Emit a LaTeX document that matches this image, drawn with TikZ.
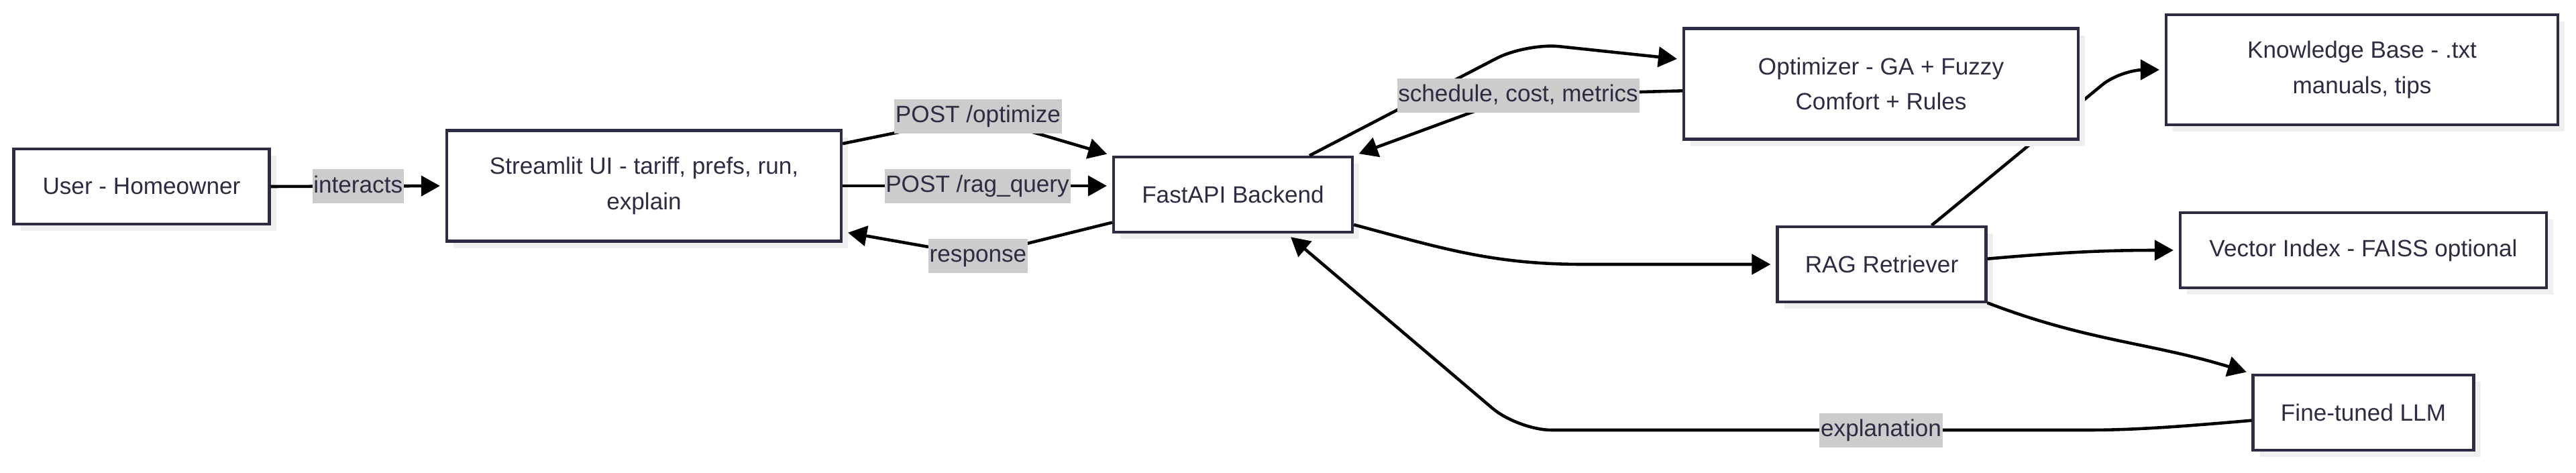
\documentclass[tikz,border=0pt]{standalone}
\usepackage{fontspec}
\setmainfont{Liberation Sans}
\usetikzlibrary{arrows.meta,shadows}

\definecolor{boxline}{HTML}{2C2C42}
\definecolor{lblgray}{HTML}{CCCCCC}
\definecolor{shadegray}{HTML}{EFEFEF}

\pgfdeclarelayer{background}
\pgfsetlayers{background,main}

\tikzset{
    blk/.style={draw=boxline, line width=1.2pt, fill=white, text=boxline, align=center, minimum height=1.12cm,
        drop shadow={shadow xshift=0.1cm, shadow yshift=-0.1cm, fill=shadegray, opacity=1}},
    lbl/.style={sharp corners, fill=lblgray, text=boxline, inner xsep=0.5pt, inner ysep=0.08cm, text height=0.27cm, text depth=0.08cm},
    flow/.style={line width=1.3pt, -{Triangle[length=0.28cm, width=0.3cm]}, shorten >=0.08cm},
}

\begin{document}
\begin{tikzpicture}[font=\fontsize{10}{15}\selectfont]
        \useasboundingbox (0,0) rectangle (38.4,-7.04);

        % Nodes
        \draw (2.11,-2.78)   node[blk, minimum width=3.81cm] (user) {User - Homeowner};
        \draw (9.60,-2.77)   node[blk, minimum width=5.88cm, minimum height=1.65cm] (ui) {Streamlit UI - tariff, prefs, run,\\explain};
        \draw (18.38,-2.90)  node[blk, minimum width=3.56cm] (api) {FastAPI Backend};
        \draw (28.04,-1.25)  node[blk, minimum width=5.88cm, minimum height=1.65cm] (opt) {Optimizer - GA + Fuzzy\\Comfort + Rules};
        \draw (35.21,-1.04)  node[blk, minimum width=5.84cm, minimum height=1.64cm] (kb) {Knowledge Base - .txt\\manuals, tips};
        \draw (28.05,-3.94)  node[blk, minimum width=3.11cm] (rag) {RAG Retriever};
        \draw (35.23,-3.73)  node[blk, minimum width=5.46cm] (vec) {Vector Index - FAISS optional};
        \draw (35.23,-6.15)  node[blk, minimum width=3.29cm] (llm) {Fine-tuned LLM};

        % User and UI
        \draw[flow] (user.east) -- (ui.west) node[lbl, midway] {interacts};
        \draw[flow, rounded corners=0.3cm] (ui.12) -- (14.58,-1.73) node[lbl] {POST /optimize} -- (api.north west);
        \draw[flow] (ui.east) -- (ui.east -| api.west) node[lbl, midway] {POST /rag\_query};
        \draw[flow, rounded corners=0.3cm] (api.193) -- (14.58,-3.81) node[lbl] {response} -- (ui.-13);

        % Backend and optimizer
        \draw[flow, rounded corners=0.5cm] (api.27) -- (22.75,-0.64) -- (opt.173);
        \draw[flow, rounded corners=0.3cm] (opt.182) -- (22.63,-1.42) node[lbl] {schedule, cost, metrics} -- (api.north east);

        % Retrieval side
        \draw[flow] (api.-14) to[out=-15, in=180] (23.6,-3.94) -- (rag.west);
        \begin{pgfonlayer}{background}
            \draw[flow, rounded corners=0.35cm] (rag.38) -- (31.61,-1.04) -- (kb.west); % runs under the optimizer
        \end{pgfonlayer}
        \draw[flow] (rag.3) to[out=5, in=180] (vec.west);
        \draw[flow] (rag.-20) to[out=-21, in=163] (llm.north west);

        % Explanation back to backend
        \draw[flow, rounded corners=0.5cm] (llm.184) to[out=185, in=0] (30.6,-6.41) -- (28.04,-6.41) node[lbl] {explanation} -- (22.63,-6.41) -- (api.-36);
\end{tikzpicture}
\end{document}
